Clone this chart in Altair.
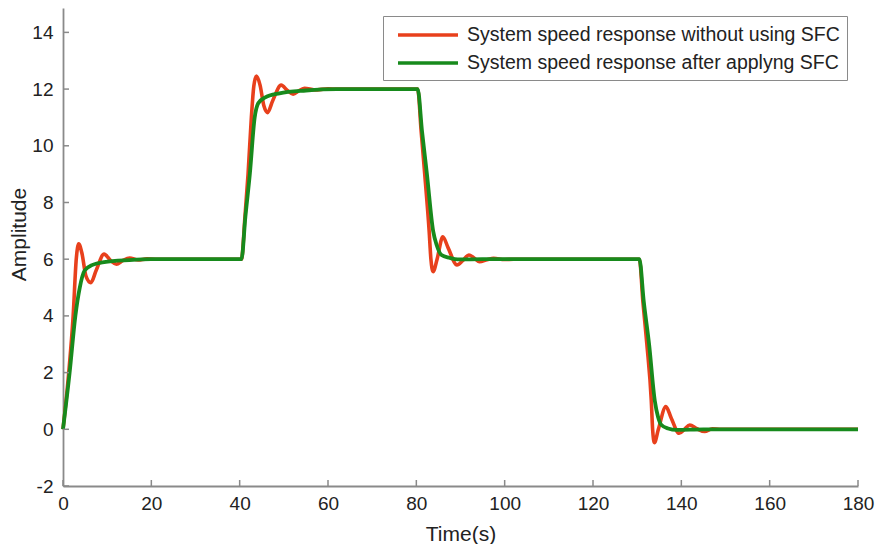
import altair as alt
import pandas as pd

series_names = [
    "System speed response without using SFC",
    "System speed response after applyng SFC",
]

# Red: without SFC (time, amplitude)
red_t = [0, 1.3, 2.3, 3.0, 3.55, 4.3, 5.2, 6.3, 7.5, 9.3, 10.8, 12.1, 13.5, 15.1, 17, 19, 21, 40.4,
         41.2, 41.9, 42.65, 43.2, 43.8, 44.6, 45.5, 46.3, 47.5, 49.4, 50.8, 52.1, 53.5, 54.7, 57, 60, 62, 80.3,
         81.1, 81.9, 82.9, 83.3, 83.8, 84.7, 86.0, 87.2, 89.2, 90.5, 91.9, 93.0, 94.3, 96, 97.5, 100, 102, 130.5,
         131.3, 132.2, 133.2, 133.5, 133.9, 134.8, 136.5, 137.7, 139.5, 140.7, 141.9, 143.5, 145.3, 147, 149, 180]
red_v = [0, 2.0, 4.0, 6.0, 6.54, 6.2, 5.4, 5.17, 5.6, 6.18, 5.95, 5.82, 5.95, 6.04, 5.97, 6.01, 6.0, 6.0,
         7.5, 9.0, 11.0, 12.1, 12.46, 12.15, 11.4, 11.17, 11.6, 12.14, 11.95, 11.82, 11.95, 12.03, 11.97, 12.01, 12.0, 12.0,
         10.5, 9.0, 7.0, 6.0, 5.56, 6.0, 6.79, 6.4, 5.8, 5.95, 6.15, 6.05, 5.91, 5.98, 6.03, 5.99, 6.0, 6.0,
         4.5, 3.0, 1.0, 0.0, -0.47, 0.0, 0.8, 0.4, -0.14, 0.0, 0.15, 0.02, -0.08, 0.02, 0.0, 0.0]

# Green: after applying SFC
green_t = [0, 1.5, 2.8, 3.8, 4.9, 6.7, 9.3, 15, 20, 40.4,
           41.3, 42.3, 43.4, 44.2, 45.7, 49, 55, 62, 80.3,
           81.3, 82.4, 83.8, 84.6, 85.7, 87.5, 89.4, 95, 130.5,
           131.5, 132.7, 134.0, 134.7, 135.5, 137, 138.9, 145, 180]
green_v = [0, 2.0, 4.0, 5.0, 5.6, 5.8, 5.9, 5.97, 6.0, 6.0,
           7.5, 9.0, 11.0, 11.5, 11.7, 11.85, 11.95, 12.0, 12.0,
           10.5, 9.0, 7.0, 6.5, 6.15, 6.05, 5.99, 6.0, 6.0,
           4.5, 3.0, 1.0, 0.45, 0.15, 0.03, -0.02, 0.0, 0.0]

x_ticks = [0, 20, 40, 60, 80, 100, 120, 140, 160, 180]
y_ticks = [-2, 0, 2, 4, 6, 8, 10, 12, 14]

df = pd.concat([
    pd.DataFrame({"t": red_t, "v": red_v, "series": series_names[0]}),
    pd.DataFrame({"t": green_t, "v": green_v, "series": series_names[1]}),
])

FONT = "Liberation Sans"
AXIS_GRAY = "#8a8a8a"
PLOT_W, PLOT_H = 795, 478

x_scale = alt.Scale(domain=[0, 180], nice=False, zero=False)
y_scale = alt.Scale(domain=[-2, 14.86], nice=False, zero=False)

x_enc = alt.X(
    "t:Q", scale=x_scale,
    axis=alt.Axis(values=x_ticks, title="Time(s)", ticks=False, grid=False,
                  labelPadding=8, labelFlush=False, titleY=54, titleBaseline="alphabetic"),
)
y_enc = alt.Y(
    "v:Q", scale=y_scale,
    axis=alt.Axis(values=y_ticks, title="Amplitude", ticks=False, grid=False,
                  labelPadding=10, labelFlush=False,
                  labelExpr="datum.value < 0 ? '-' + abs(datum.value) : '' + datum.value",
                  titleX=-38, titleY=226, titleAngle=270,
                  titleAlign="center", titleBaseline="alphabetic"),
)

color_scale = alt.Scale(domain=series_names, range=["#e8401c", "#178a1c"])
legend = alt.Legend(
    orient="none", legendX=320, legendY=8, title=None,
    symbolType="M-0.4,0L5.6,0", symbolSize=400, symbolStrokeWidth=3.5,
    labelOffset=53, labelFontSize=19.5, labelFont=FONT, labelColor="#222222",
    labelLimit=700, padding=7, rowPadding=6,
    strokeColor="#8a8a8a", fillColor="white", cornerRadius=0,
)
color_enc = alt.Color("series:N", scale=color_scale, sort=series_names, legend=legend)

base = alt.Chart(df)
red = base.transform_filter(alt.datum.series == series_names[0]).mark_line(
    strokeWidth=3.6, interpolate="monotone"
).encode(x=x_enc, y=y_enc, color=color_enc)
green = base.transform_filter(alt.datum.series == series_names[1]).mark_line(
    strokeWidth=3.8, interpolate="monotone"
).encode(x=x_enc, y=y_enc, color=color_enc)

# inward tick marks (MATLAB style), positioned from the tick value lists
xt_df = pd.DataFrame({"t": x_ticks})
yt_df = pd.DataFrame({"v": y_ticks})
xt = alt.Chart(xt_df).mark_rule(color=AXIS_GRAY, strokeWidth=1.5).encode(
    x=x_enc, y=alt.value(PLOT_H), y2=alt.value(PLOT_H - 6),
)
yt = alt.Chart(yt_df).mark_rule(color=AXIS_GRAY, strokeWidth=1.5).encode(
    y=y_enc, x=alt.value(0), x2=alt.value(6),
)

chart = alt.layer(red, green, xt, yt).properties(
    width=PLOT_W, height=PLOT_H,
    autosize=alt.AutoSizeParams(type="none"),
    padding={"left": 55, "top": 0, "right": 18, "bottom": 58},
    background="white",
).configure_view(stroke=None).configure_axis(
    domainColor=AXIS_GRAY, domainWidth=1.8,
    labelFont=FONT, labelFontSize=19, labelColor="#222222",
    titleFont=FONT, titleFontSize=21, titleColor="#222222", titleFontWeight="normal",
)

chart.save("out.html", embed_options={"renderer": "svg", "actions": False})
